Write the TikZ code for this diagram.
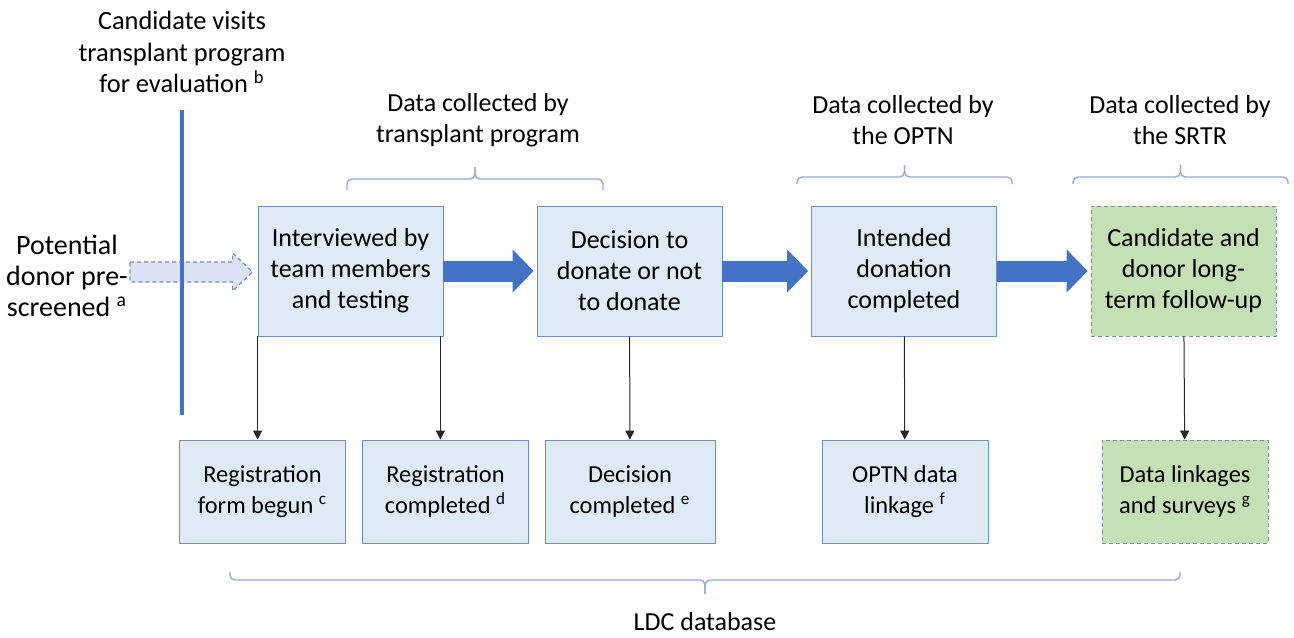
\documentclass[tikz,border=0pt]{standalone}
\usepackage{fontspec}
\setmainfont{Carlito}
\usetikzlibrary{arrows.meta, calc}

\definecolor{boxblue}{RGB}{222,235,247}
\definecolor{edgeblue}{RGB}{109,142,199}
\definecolor{darkblue}{RGB}{68,114,196}
\definecolor{braceblue}{RGB}{143,170,220}
\definecolor{boxgreen}{RGB}{197,224,180}
\definecolor{dashfill}{RGB}{218,227,243}

\tikzset{
	stage/.style={draw=edgeblue, fill=boxblue, align=center, inner sep=0pt,
		minimum width=92.5pt, minimum height=65pt, font=\fontsize{13}{15.5}\selectfont},
	record/.style={stage, minimum width=83pt, minimum height=51.5pt,
		font=\fontsize{12.2}{15.5}\selectfont},
	later/.style={fill=boxgreen, dashed, dash pattern=on 2pt off 1.5pt},
	caption/.style={align=center, font=\fontsize{13}{15.5}\selectfont},
	bigarrow/.style={darkblue, line width=10.5pt, shorten >=1.5pt,
		-{Triangle[length=10.5pt, width=21.5pt, line width=0pt]}},
	thinarrow/.style={black!85, line width=0.5pt, -{Triangle[length=4.5pt, width=4.5pt]}},
	bracket/.style={braceblue, line width=0.7pt, rounded corners=2.5pt},
	dasharrow/.style={draw=edgeblue, fill=dashfill, line width=0.6pt, dashed,
		dash pattern=on 2pt off 1.5pt}
}

\begin{document}
\begin{tikzpicture}[x=0.5pt,y=-0.5pt]
	\useasboundingbox (0,0) rectangle (1294,637);
	% Top row
	\path (350.5,271) node (intv) [stage] {Interviewed by\\team members\\and testing};
	\path (629.5,271) node (dec) [stage] {Decision to\\donate or not\\to donate};
	\path (904,271) node (done) [stage] {Intended\\donation\\completed};
	\path (1183.5,271) node (follow) [stage, later] {Candidate and\\donor long-\\term follow-up};
	% Bottom row
	\path (262.5,491.5) node (reg) [record] {Registration\\form begun \textsuperscript{c}};
	\path (445.5,491.5) node (regc) [record] {Registration\\completed \textsuperscript{d}};
	\path (630,491.5) node (decc) [record, minimum width=85pt] {Decision\\completed \textsuperscript{e}};
	\path (905,491.5) node (link) [record] {OPTN data\\linkage \textsuperscript{f}};
	\path (1185,491.5) node (surv) [record, later] {Data linkages\\and surveys \textsuperscript{g}};
	% Captions
	\path (182,52) node (visit) [caption, font=\fontsize{13.2}{15.8}\selectfont] {Candidate visits\\transplant program\\for evaluation \textsuperscript{b}};
	\path (67,276) node (pre) [caption, font=\fontsize{14}{15.5}\selectfont] {Potential\\donor pre-\\screened \textsuperscript{a}};
	\path (478,120) node (byprog) [caption] {Data collected by\\transplant program};
	\path (903,120) node (byoptn) [caption] {Data collected by\\the OPTN};
	\path (1180,120) node (bysrtr) [caption] {Data collected by\\the SRTR};
	\path (705,622) node (ldc) [caption] {LDC database};
	% Pre-screening arrow
	\coordinate (tail) at (130,272);
	\draw[dasharrow] ($(tail)+(0,-10)$) -- ($(intv.west)+(-25,-9)$)
		-- ($(intv.west)+(-25,-18)$) -- ($(intv.west)+(-5,1)$)
		-- ($(intv.west)+(-25,20)$) -- ($(intv.west)+(-25,11)$)
		-- ($(tail)+(0,10)$) -- cycle;
	\coordinate (vtop) at (182,110);
	\coordinate (vbot) at (182,415);
	\draw[darkblue, line width=2pt] (vtop) -- (vbot);
	% Flow
	\draw[bigarrow] (intv) -- (dec);
	\draw[bigarrow] (dec) -- (done);
	\draw[bigarrow] (done) -- (follow);
	\coordinate (drop) at ($(intv.south east)+(-3,0)$);
	\draw[thinarrow] (intv.south west) -- (intv.south west |- reg.north);
	\draw[thinarrow] (drop) -- (drop |- regc.north);
	\draw[thinarrow] (dec) -- (decc);
	\draw[thinarrow] (done) -- (link);
	\draw[thinarrow] (follow) -- (surv);
	% Braces
	\foreach \l/\r/\e/\m/\t in {347/603/190/179/167, 797/1012/184/177/165,
		1073/1288/184/177/165, 230/1180/572/580/594}{
		\draw[bracket] (\l,\e) -- (\l,\m) -- ({(\l+\r)/2},\m) -- ({(\l+\r)/2},\t);
		\draw[bracket] (\r,\e) -- (\r,\m) -- ({(\l+\r)/2},\m) -- ({(\l+\r)/2},\t);
	}
\end{tikzpicture}
\end{document}
